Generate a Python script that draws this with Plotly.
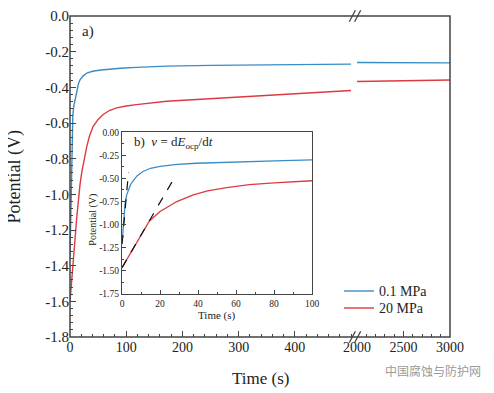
import plotly.graph_objects as go

# ---------------- data ----------------
series_names = ["0.1 MPa", "20 MPa"]

# main panel, left segment (0-500 s)
t_blue = [0, 1, 2, 3, 4, 5, 6.5, 9, 12, 15, 18, 23, 30, 40, 55, 71, 90, 118, 172, 250, 320, 400, 500]
e_blue = [-1.35, -1.15, -0.90, -0.72, -0.62, -0.56, -0.51, -0.465, -0.415, -0.38, -0.357,
          -0.337, -0.32, -0.31, -0.303, -0.298, -0.293, -0.288, -0.281, -0.277, -0.274,
          -0.272, -0.270]
t_red = [0, 2, 4, 6, 9, 12, 15, 18, 21, 25, 30, 35, 41, 50, 59, 70, 83, 100, 118, 172,
         250, 320, 400, 500]
e_red = [-1.60, -1.53, -1.46, -1.37, -1.25, -1.13, -1.02, -0.94, -0.875, -0.80, -0.73,
         -0.67, -0.62, -0.58, -0.552, -0.53, -0.515, -0.505, -0.497, -0.478, -0.463,
         -0.452, -0.437, -0.418]
# main panel, right segment (2000-3000 s)
t_long = [2000, 2250, 2500, 2750, 3000]
e_blue_long = [-0.261, -0.262, -0.262, -0.263, -0.263]
e_red_long = [-0.367, -0.364, -0.362, -0.360, -0.359]

# inset (0-100 s)
ti_blue = [0, 0.7, 1.6, 2.4, 3.3, 4.5, 6, 8, 11, 15, 20, 29, 39, 50, 67, 85, 100]
ei_blue = [-1.20, -1.01, -0.77, -0.68, -0.62, -0.565, -0.52, -0.47, -0.425, -0.39,
           -0.37, -0.347, -0.336, -0.328, -0.318, -0.308, -0.30]
ti_red = [0, 4.2, 9.5, 14.4, 20, 28.8, 37.5, 45, 55, 67, 80, 100]
ei_red = [-1.465, -1.318, -1.13, -0.96, -0.857, -0.75, -0.678, -0.635, -0.60, -0.568,
          -0.548, -0.525]
# tangent lines in the inset
tan_blue_t = [0, 3.4]
tan_blue_e = [-1.21, -0.43]
tan_red_t = [0, 27.9]
tan_red_e = [-1.465, -0.48]

# ticks
y_ticks = [0.0, -0.2, -0.4, -0.6, -0.8, -1.0, -1.2, -1.4, -1.6, -1.8]
y_labels = ["0.0", "-0.2", "-0.4", "-0.6", "-0.8", "-1.0", "-1.2", "-1.4", "-1.6", "-1.8"]
x1_ticks = [0, 100, 200, 300, 400]
x2_ticks = [2000, 2500, 3000]
xi_ticks = [0, 20, 40, 60, 80, 100]
yi_ticks = [0.0, -0.25, -0.5, -0.75, -1.0, -1.25, -1.5, -1.75]
yi_labels = ["0.00", "-0.25", "-0.50", "-0.75", "-1.00", "-1.25", "-1.50", "-1.75"]

BLUE = "#3a8cc6"
RED = "#dc3a42"
AX = "#444444"
TXT = "#222222"
SERIF = "Liberation Serif"

fig = go.Figure()

# main traces
fig.add_trace(go.Scatter(x=t_blue, y=e_blue, mode="lines", line=dict(color=BLUE, width=1.4),
                         name=series_names[0], xaxis="x", yaxis="y"))
fig.add_trace(go.Scatter(x=t_red, y=e_red, mode="lines", line=dict(color=RED, width=1.4),
                         name=series_names[1], xaxis="x", yaxis="y"))
fig.add_trace(go.Scatter(x=t_long, y=e_blue_long, mode="lines", line=dict(color=BLUE, width=1.4),
                         xaxis="x2", yaxis="y"))
fig.add_trace(go.Scatter(x=t_long, y=e_red_long, mode="lines", line=dict(color=RED, width=1.4),
                         xaxis="x2", yaxis="y"))
# inset traces
fig.add_trace(go.Scatter(x=ti_blue, y=ei_blue, mode="lines", line=dict(color=BLUE, width=1.3),
                         xaxis="x3", yaxis="y3"))
fig.add_trace(go.Scatter(x=ti_red, y=ei_red, mode="lines", line=dict(color=RED, width=1.3),
                         xaxis="x3", yaxis="y3"))
fig.add_trace(go.Scatter(x=tan_blue_t, y=tan_blue_e, mode="lines",
                         line=dict(color="#111111", width=1.2, dash="dash"),
                         xaxis="x3", yaxis="y3"))
fig.add_trace(go.Scatter(x=tan_red_t, y=tan_red_e, mode="lines",
                         line=dict(color="#111111", width=1.2, dash="dash"),
                         xaxis="x3", yaxis="y3"))

xtickfont = dict(family=SERIF, size=14, color=TXT)
ytickfont = dict(family=SERIF, size=15, color=TXT)
small_font = dict(family=SERIF, size=9.5, color=TXT)

# page body adds an 8 px offset; plot area kept at 380 x 321 px
fig.update_layout(
    width=486, height=385,
    margin=dict(l=62, r=44, t=8, b=56, autoexpand=False),
    paper_bgcolor="white", plot_bgcolor="white",
    font=dict(family=SERIF, color=TXT),
    showlegend=False,
    xaxis=dict(domain=[0, 0.747], range=[0, 505], anchor="y", automargin=False,
               tickvals=x1_ticks, ticks="inside", ticklen=6, tickcolor=AX, tickwidth=1.2,
               minor=dict(dtick=20, ticks="inside", ticklen=3, tickcolor=AX, tickwidth=1),
               showgrid=False, zeroline=False, showline=False, tickfont=xtickfont),
    xaxis2=dict(domain=[0.755, 1], range=[2000, 3000], anchor="y", automargin=False,
                tickvals=x2_ticks, ticks="inside", ticklen=6, tickcolor=AX, tickwidth=1.2,
                minor=dict(dtick=100, ticks="inside", ticklen=3, tickcolor=AX, tickwidth=1),
                showgrid=False, zeroline=False, showline=False, tickfont=xtickfont),
    yaxis=dict(domain=[0, 1], range=[-1.8, 0], anchor="x", automargin=False,
               tickvals=y_ticks, ticktext=y_labels, ticks="inside", ticklen=6,
               tickcolor=AX, tickwidth=1.2,
               minor=dict(dtick=0.04, ticks="inside", ticklen=3, tickcolor=AX, tickwidth=1),
               showgrid=False, zeroline=False, showline=False, tickfont=ytickfont),
    xaxis3=dict(domain=[0.137, 0.637], range=[0, 100], anchor="y3", automargin=False,
                tickvals=xi_ticks, ticks="inside", ticklen=4, tickcolor=AX,
                minor=dict(dtick=10, ticks="inside", ticklen=2, tickcolor=AX),
                showline=True, mirror=True, linecolor=AX, linewidth=1.3,
                showgrid=False, zeroline=False, tickfont=small_font),
    yaxis3=dict(domain=[0.134, 0.638], range=[-1.75, 0], anchor="x3", automargin=False,
                tickvals=yi_ticks, ticktext=yi_labels, ticks="inside", ticklen=4, tickcolor=AX,
                minor=dict(dtick=0.125, ticks="inside", ticklen=2, tickcolor=AX),
                showline=True, mirror=True, linecolor=AX, linewidth=1.3,
                showgrid=False, zeroline=False, tickfont=small_font),
)

# frame, inset background, axis breaks, legend samples
shapes = [
    dict(type="rect", xref="paper", yref="paper", x0=0, y0=0, x1=1, y1=1,
         line=dict(color=AX, width=1.5), layer="above"),
    dict(type="rect", xref="paper", yref="paper", x0=0.137, y0=0.134, x1=0.637, y1=0.638,
         fillcolor="white", line=dict(width=0), layer="below"),
]
for bx in (0.743, 0.757):
    for by in (0.0, 1.0):
        shapes.append(dict(type="line", xref="paper", yref="paper",
                           x0=bx - 0.008, y0=by - 0.018, x1=bx + 0.008, y1=by + 0.018,
                           line=dict(color=AX, width=1.3), layer="above"))
legend_y = [0.1433, 0.0903]
for col, ly in zip([BLUE, RED], legend_y):
    shapes.append(dict(type="line", xref="paper", yref="paper", x0=0.721, x1=0.8,
                       y0=ly, y1=ly, line=dict(color=col, width=1.4)))
fig.update_layout(shapes=shapes)

annotations = [
    dict(text="Potential (V)", xref="paper", yref="paper", x=-0.145, y=0.5, textangle=-90,
         xanchor="center", yanchor="middle", showarrow=False,
         font=dict(family=SERIF, size=18, color=TXT)),
    dict(text="Time (s)", xref="paper", yref="paper", x=0.5, y=-0.128,
         xanchor="center", yanchor="middle", showarrow=False,
         font=dict(family=SERIF, size=17, color=TXT)),
    dict(text="a)", xref="paper", yref="paper", x=0.026, y=0.951, xanchor="left",
         yanchor="middle", showarrow=False, font=dict(family=SERIF, size=15, color=TXT)),
    dict(text="b)  <i>ν</i> = d<i>E</i><sub>ocp</sub>/d<i>t</i>", xref="paper", yref="paper",
         x=0.162, y=0.605, xanchor="left", yanchor="middle", showarrow=False,
         font=dict(family=SERIF, size=13, color=TXT)),
    dict(text="Time (s)", xref="paper", yref="paper", x=0.388, y=0.068,
         xanchor="center", yanchor="middle", showarrow=False,
         font=dict(family=SERIF, size=11, color=TXT)),
    dict(text="Potential (V)", xref="paper", yref="paper", x=0.06, y=0.365, textangle=-90,
         xanchor="center", yanchor="middle", showarrow=False,
         font=dict(family=SERIF, size=10, color=TXT)),
    dict(text="中国腐蚀与防护网", xref="paper", yref="paper", x=0.823, y=-0.104,
         xanchor="left", yanchor="middle", showarrow=False,
         font=dict(family="Noto Sans CJK SC", size=12, color="#9a9a9a")),
]
for name, ly in zip(series_names, legend_y):
    annotations.append(dict(text=name, xref="paper", yref="paper", x=0.808, y=ly,
                            xanchor="left", yanchor="middle", showarrow=False,
                            font=dict(family=SERIF, size=14, color=TXT)))
fig.update_layout(annotations=annotations)

fig.write_html("out.html")
